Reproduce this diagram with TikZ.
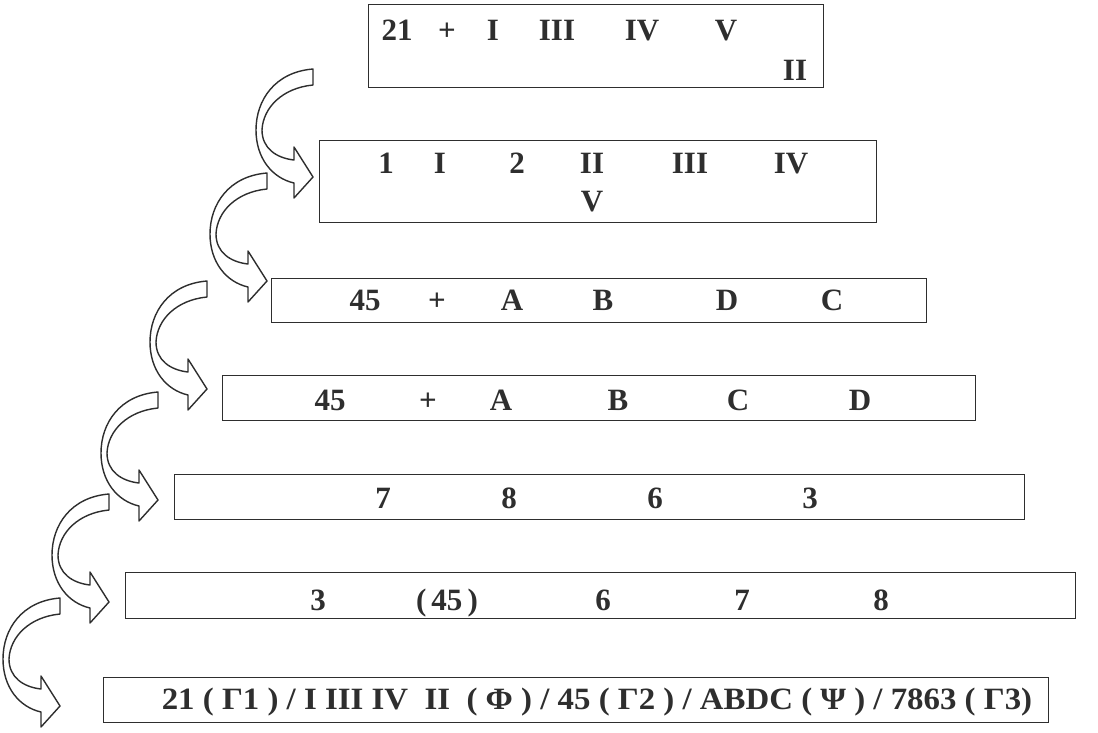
\documentclass[tikz,border=0pt]{standalone}
\usepackage{fontspec}
\setmainfont{Liberation Serif}
\definecolor{ink}{HTML}{2E2E2E}
\tikzset{
  x=1pt, y=-1pt,
  box/.style={draw=ink, line width=1.4pt, anchor=north west, inner sep=0pt},
  lbl/.style={text=ink, inner sep=0pt, anchor=base, font=\bfseries\fontsize{31}{31}\selectfont},
  curarr/.pic={
    \draw[draw=ink, fill=white, line width=1.4pt, line join=round]
      (0,0) .. controls (-38,3) and (-57,31) .. (-57,61)
      .. controls (-57,89) and (-41,109) .. (-19,114)
      -- (-19,129) -- (0,108) -- (-19,78) -- (-19,91)
      .. controls (-37,89) and (-51,79) .. (-51,61)
      .. controls (-50,39) and (-31,19) .. (0,16) -- cycle;
  }
}
\begin{document}
\begin{tikzpicture}
\useasboundingbox (0,0) rectangle (1098,732);
% boxes
\node[box, minimum width=455pt, minimum height=83pt] (b1) at (368,4) {};
\node[box, minimum width=557pt, minimum height=82pt] (b2) at (319,140) {};
\node[box, minimum width=655pt, minimum height=44pt] (b3) at (271,278) {};
\node[box, minimum width=753pt, minimum height=45pt] (b4) at (222,375) {};
\node[box, minimum width=850pt, minimum height=45pt] (b5) at (174,474) {};
\node[box, minimum width=950pt, minimum height=46pt] (b6) at (125,572) {};
\node[box, minimum width=945pt, minimum height=45pt] (b7) at (103,677) {};
% box 1
\node[lbl] (t11) at (397,40) {21};
\node[lbl] (t12) at (447,40) {+};
\node[lbl] (t13) at (493,40) {I};
\node[lbl] (t14) at (557,40) {III};
\node[lbl] (t15) at (642,40) {IV};
\node[lbl] (t16) at (726,40) {V};
\node[lbl] (t17) at (795,80) {II};
% box 2
\node[lbl] (t21) at (386,173) {1};
\node[lbl] (t22) at (440,173) {I};
\node[lbl] (t23) at (517,173) {2};
\node[lbl] (t24) at (592,173) {II};
\node[lbl] (t25) at (690,173) {III};
\node[lbl] (t26) at (791,173) {IV};
\node[lbl] (t27) at (592,211) {V};
% box 3
\node[lbl] (t31) at (365,310) {45};
\node[lbl] (t32) at (437,310) {+};
\node[lbl] (t33) at (512,310) {A};
\node[lbl] (t34) at (603,310) {B};
\node[lbl] (t35) at (727,310) {D};
\node[lbl] (t36) at (832,310) {C};
% box 4
\node[lbl] (t41) at (330,410) {45};
\node[lbl] (t42) at (428,410) {+};
\node[lbl] (t43) at (501,410) {A};
\node[lbl] (t44) at (618,410) {B};
\node[lbl] (t45) at (738,410) {C};
\node[lbl] (t46) at (860,410) {D};
% box 5
\node[lbl] (t51) at (383,508) {7};
\node[lbl] (t52) at (509,508) {8};
\node[lbl] (t53) at (655,508) {6};
\node[lbl] (t54) at (810,508) {3};
% box 6
\node[lbl] (t61) at (318,610) {3};
\node[lbl] (t62) at (447,610) {(\,45\,)};
\node[lbl] (t63) at (603,610) {6};
\node[lbl] (t64) at (742,610) {7};
\node[lbl] (t65) at (881,610) {8};
% box 7
\node[lbl] (t71) at (597,709) {\scalebox{1.06}[1]{21 ( Γ1 ) / I III IV\enspace II\enspace ( Φ ) / 45 ( Γ2 ) / ABDC ( Ψ ) / 7863 ( Γ3)}};
% curved arrows
\pic at (313,69) {curarr};
\pic at (267,173) {curarr};
\pic at (207,281) {curarr};
\pic at (158,392) {curarr};
\pic at (109,494) {curarr};
\pic at (60,598) {curarr};
\end{tikzpicture}
\end{document}
